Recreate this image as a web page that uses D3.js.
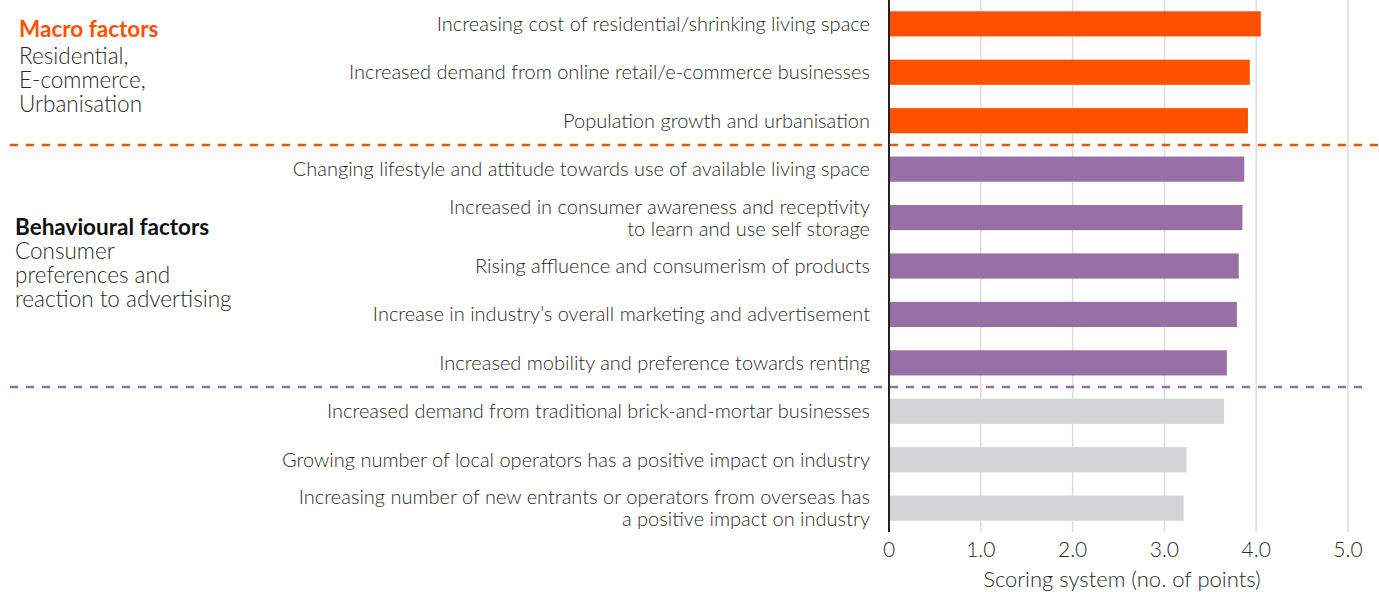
<!DOCTYPE html>
<meta charset="utf-8">
<style>
  body { margin: 0; background: #fff; }
  svg { font-family: Lato, "Open Sans", sans-serif; display: block; }
  .label text { font-weight: 300; fill: #2a2a2a; }
  .grid line { stroke: #ddd; stroke-width: 1.5; }
  .axis text { font-weight: 300; fill: #2a2a2a; }
</style>
<script src="https://d3js.org/d3.v7.min.js"></script>
<body>
<script>

const width = 1379;
const height = 592;

// one entry per bar, top to bottom; multi-line labels are split with "|"
const factors = [
  "Increasing cost of residential/shrinking living space",
  "Increased demand from online retail/e-commerce businesses",
  "Population growth and urbanisation",
  "Changing lifestyle and attitude towards use of available living space",
  "Increased in consumer awareness and receptivity|to learn and use self storage",
  "Rising affluence and consumerism of products",
  "Increase in industry\u2019s overall marketing and advertisement",
  "Increased mobility and preference towards renting",
  "Increased demand from traditional brick-and-mortar businesses",
  "Growing number of local operators has a positive impact on industry",
  "Increasing number of new entrants or operators from overseas has|a positive impact on industry"
];
const scores = [4.05, 3.93, 3.91, 3.87, 3.85, 3.81, 3.79, 3.68, 3.65, 3.24, 3.21];
const groups = ["macro", "macro", "macro", "behav", "behav", "behav", "behav", "behav", "other", "other", "other"];
const ticks = [0, 1, 2, 3, 4, 5];
const tickLabels = ["0", "1.0", "2.0", "3.0", "4.0", "5.0"];

const color = { macro: "#ff5000", behav: "#9870a5", other: "#d4d4d6" };

const x0 = 889;
const x = d3.scaleLinear().domain([0, 5]).range([x0, 1348]);
const y = d3.scaleBand().domain(d3.range(factors.length)).range([-12, 544]).padding(0.48);

const svg = d3.select("body").append("svg")
  .attr("width", width)
  .attr("height", height);

// grid
svg.append("g").attr("class", "grid")
  .selectAll("line")
  .data(ticks.slice(1))
  .enter().append("line")
  .attr("x1", d => x(d)).attr("x2", d => x(d))
  .attr("y1", 0).attr("y2", 532);

// bars
svg.append("g")
  .selectAll("rect")
  .data(scores)
  .enter().append("rect")
  .attr("x", x(0))
  .attr("y", (d, i) => y(i))
  .attr("width", d => x(d) - x(0))
  .attr("height", y.bandwidth())
  .attr("fill", (d, i) => color[groups[i]]);

// group separators
const sepY = [
  (y(2) + y.bandwidth() + y(3)) / 2,
  (y(7) + y.bandwidth() + y(8)) / 2
];
svg.append("line")
  .attr("x1", 10).attr("x2", width)
  .attr("y1", sepY[0]).attr("y2", sepY[0])
  .attr("stroke", color.macro).attr("stroke-width", 2.5)
  .attr("stroke-dasharray", "8,8");
svg.append("line")
  .attr("x1", 10).attr("x2", 1362)
  .attr("y1", sepY[1]).attr("y2", sepY[1])
  .attr("stroke", color.behav).attr("stroke-width", 2.5)
  .attr("stroke-dasharray", "8,8");

// y axis line
svg.append("line")
  .attr("x1", x0).attr("x2", x0)
  .attr("y1", 0).attr("y2", 532)
  .attr("stroke", "#222").attr("stroke-width", 2);

// category labels
const lbl = svg.append("g").attr("class", "label")
  .selectAll("text")
  .data(factors)
  .enter().append("text")
  .attr("text-anchor", "end")
  .attr("font-size", 20)
  .attr("y", (d, i) => y(i) + y.bandwidth() / 2);
lbl.each(function(d) {
  const lines = d.split("|");
  const t = d3.select(this);
  lines.forEach((s, k) => {
    t.append("tspan")
      .attr("x", 870)
      .attr("dy", k === 0 ? (0.35 - (lines.length - 1) * 0.55) + "em" : "1.1em")
      .text(s);
  });
});

// x axis ticks
const ax = svg.append("g").attr("class", "axis");
ax.selectAll("text")
  .data(ticks)
  .enter().append("text")
  .attr("x", d => x(d))
  .attr("y", 557)
  .attr("text-anchor", "middle")
  .attr("font-size", 21)
  .text((d, i) => tickLabels[i]);
ax.append("text")
  .attr("x", 1122)
  .attr("y", 587)
  .attr("text-anchor", "middle")
  .attr("font-size", 22)
  .text("Scoring system (no. of points)");

// group notes on the left
const notes = [
  { x: 19, y: 37, gap: 27, head: "Macro factors", fill: color.macro, lines: ["Residential,", "E-commerce,", "Urbanisation"] },
  { x: 15, y: 235, gap: 24, head: "Behavioural factors", fill: "#111", lines: ["Consumer", "preferences and", "reaction to advertising"] }
];
notes.forEach(n => {
  const t = svg.append("text").attr("x", n.x).attr("y", n.y).attr("font-size", 22.5);
  t.append("tspan").attr("font-weight", 700).attr("fill", n.fill).text(n.head);
  n.lines.forEach((s, k) => {
    t.append("tspan").attr("x", n.x).attr("dy", k === 0 ? n.gap : 24)
      .attr("font-weight", 300).attr("fill", "#2a2a2a").text(s);
  });
});
</script>
</body>
